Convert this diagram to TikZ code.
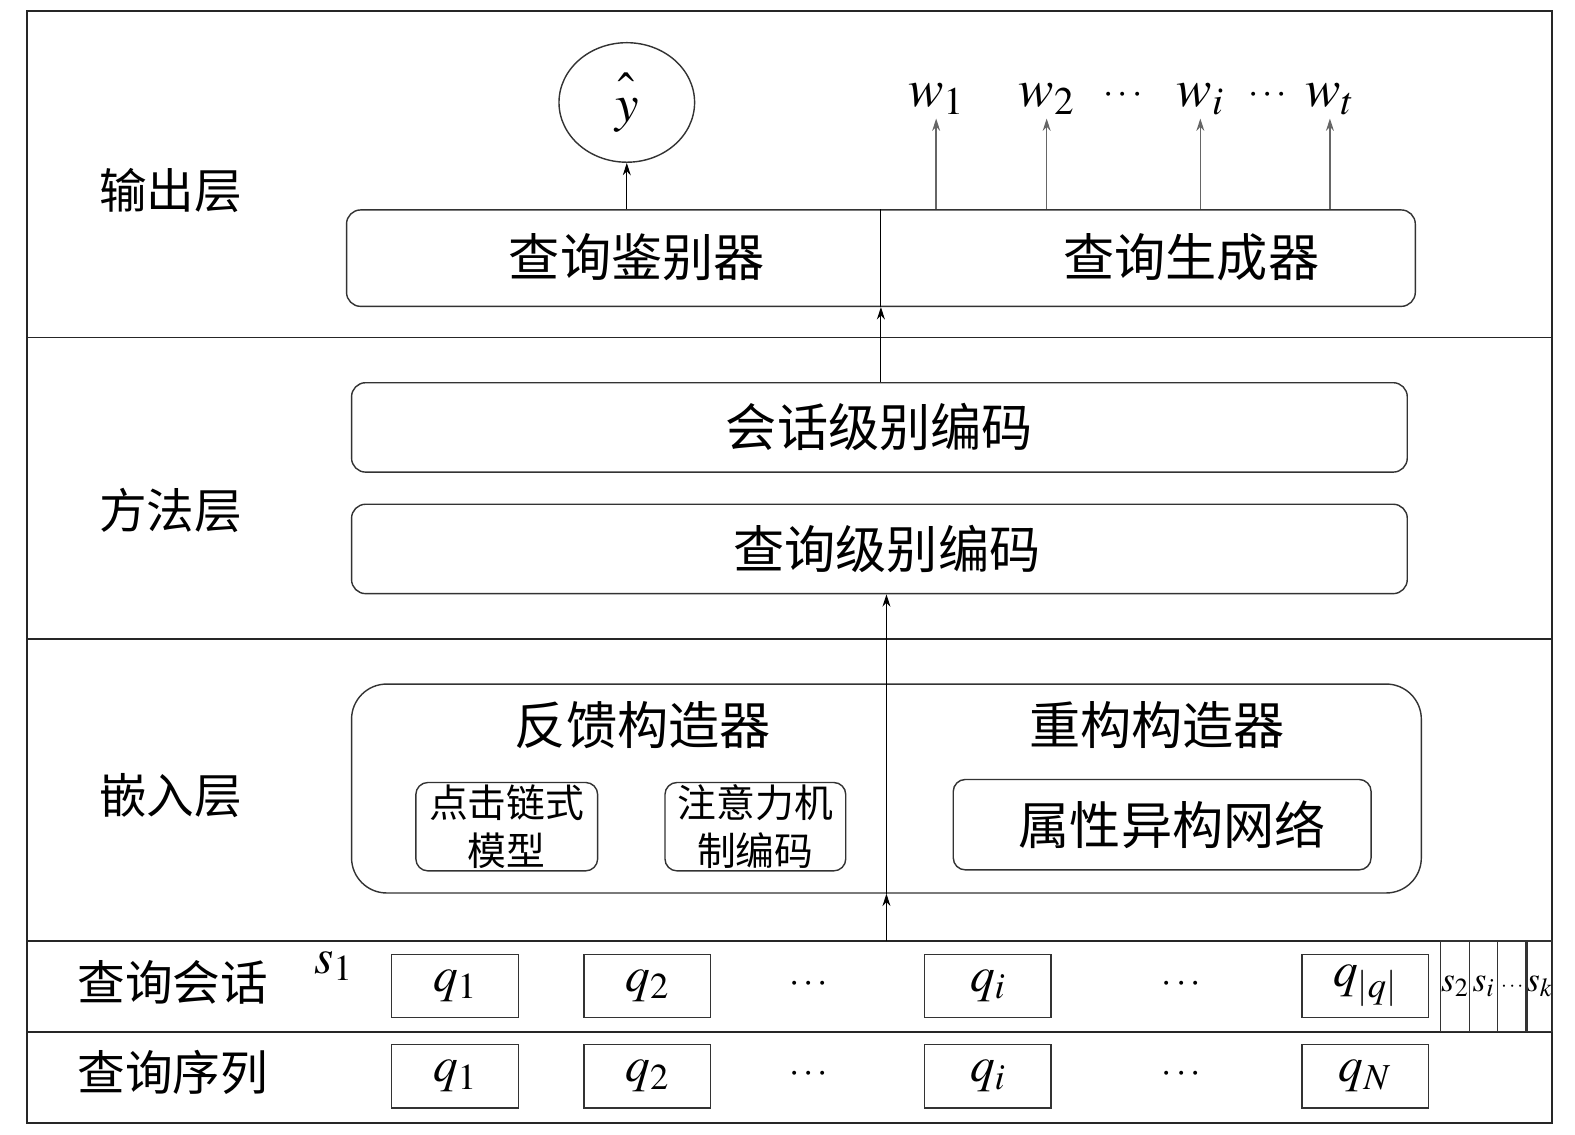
\documentclass[tikz,border=0pt]{standalone}
\usepackage{mathptmx}
\usepackage{fontspec}
\newfontfamily\cjk{Noto Sans CJK SC}
\usetikzlibrary{arrows.meta,shapes.geometric}

\begin{document}
\begin{tikzpicture}[x=0.02cm,y=-0.02cm]
	\def\u{0.02cm}
	\tikzset{lay/.style={font=\cjk\fontsize{27}{32}\selectfont},
		big/.style={font=\cjk\fontsize{29}{34}\selectfont},
		bx/.style={draw=black!80,line width=0.8pt,rounded corners=2.8mm,inner sep=0pt},
		qb/.style={draw=black!80,line width=0.8pt,minimum width=126*\u,minimum height=63*\u,inner sep=0pt,font=\fontsize{28}{30}\selectfont},
		sb/.style={draw=black!80,line width=0.8pt,minimum height=90*\u,inner sep=0pt,font=\fontsize{20}{22}\selectfont},
		wl/.style={font=\fontsize{30}{32}\selectfont,inner sep=2pt},
		dt/.style={font=\fontsize{21}{24}\selectfont,line width=0.8pt},
		arr/.style={-{Stealth[length=7pt,width=4.5pt]},line width=0.6pt}}
	\useasboundingbox (0,0) rectangle (1568,1129);
	% frame and layers
	\draw[line width=1.1pt,black!85] (27,11) rectangle (1545,1118);
	\foreach \y in {336,636,937,1027}
	\draw[line width=1.1pt,black!85] (27,\y) -- (1545,\y);
	\node[lay] (Lout) at (170,190) {输出层};
	\node[lay] (Lmeth) at (170,508) {方法层};
	\node[lay] (Lemb) at (170,792) {嵌入层};
	\node[lay] (Lsess) at (172,978) {查询会话};
	\node[lay] (Lseq) at (172,1068) {查询序列};
	% output layer
	\node[bx,minimum width=1064*\u,minimum height=96*\u] (out) at (877,257) {};
	\draw[line width=0.6pt] (out.south) -- (out.north);
	\node[big] (disc) at (634,256) {查询鉴别器};
	\node[big] (gen) at (1186,256) {查询生成器};
	\node[draw=black!80,line width=0.8pt,ellipse,minimum width=135*\u,minimum height=119*\u,font=\fontsize{30}{32}\selectfont] (yhat) at (624,102) {$\hat{\vphantom{b}y}$};
	\draw[arr] (out.north -| yhat.south) -- (yhat.south);
	\foreach \n/\x/\t in {w1/932/1,w2/1042/2,wi/1195/i,wt/1324/t}{
		\node[wl,anchor=south] (\n) at (\x,118) {$w_{\t}$};
		\draw[arr,black!60,line width=0.8pt] (out.north -| \n.south) -- (\n.south);
	}
	\node[dt] (wd1) at (1118,95) {$\cdots$};
	\node[dt] (wd2) at (1262,95) {$\cdots$};
	% method layer
	\node[bx,big,minimum width=1051*\u,minimum height=89*\u] (sess) at (875.5,425.5) {会话级别编码};
	\node[bx,big,minimum width=1051*\u,minimum height=89*\u] (qlev) at (875.5,546.5) {\hspace*{0.3cm}查询级别编码};
	\draw[arr] (sess.north -| out.south) -- (out.south);
	% embedding layer
	\node[bx,rounded corners=7mm,minimum width=1065*\u,minimum height=208*\u] (emb) at (882.5,785) {};
	\draw[line width=0.6pt] (emb.south) -- (emb.north);
	\draw[arr] (emb.north) -- (emb.north |- qlev.south);
	\coordinate (in) at (882.5,937);
	\draw[arr] (in) -- (emb.south);
	\node[big] (fb) at (640,722) {反馈构造器};
	\node[big] (rc) at (1152,722) {重构构造器};
	\node[bx,rounded corners=2.4mm,align=center,font=\cjk\fontsize{22}{27}\selectfont,minimum width=181*\u,minimum height=88*\u] (click) at (504.5,823) {点击链式\\模型};
	\node[bx,rounded corners=2.4mm,align=center,font=\cjk\fontsize{22}{27}\selectfont,minimum width=180*\u,minimum height=88*\u] (attn) at (752,823) {注意力机\\制编码};
	\node[bx,big,rounded corners=2.4mm,minimum width=416*\u,minimum height=90*\u] (hin) at (1157,821) {\hspace*{0.4cm}属性异构网络};
	% query session and query sequence
	\node[font=\fontsize{28}{30}\selectfont] (s1) at (332,962) {$s_1$};
	\foreach \n/\x/\t in {a1/453/1,a2/644.5/2,ai/983.5/i,aq/1359/{|q|}}
	\node[qb] (\n) at (\x,981.5) {$q_{\t}$};
	\foreach \n/\x/\t in {b1/453/1,b2/644.5/2,bi/983.5/i,bN/1359/N}
	\node[qb] (\n) at (\x,1071.5) {$q_{\t}$};
	\foreach \n/\x/\y in {ad1/805/980,ad2/1176/980,bd1/805/1070,bd2/1176/1070}
	\node[dt] (\n) at (\x,\y) {$\cdots$};
	\foreach \n/\x/\w/\t in {s2/1448.5/29/{$s_2$},si/1477/28/{$s_i$},sk/1532.5/25/{$s_k$}}
	\node[sb,minimum width=\w*\u] (\n) at (\x,982) {\t};
	\node[sb,minimum width=29*\u,font=\fontsize{12}{14}\selectfont] (sd) at (1505.5,982) {$\cdots$};
\end{tikzpicture}
\end{document}
